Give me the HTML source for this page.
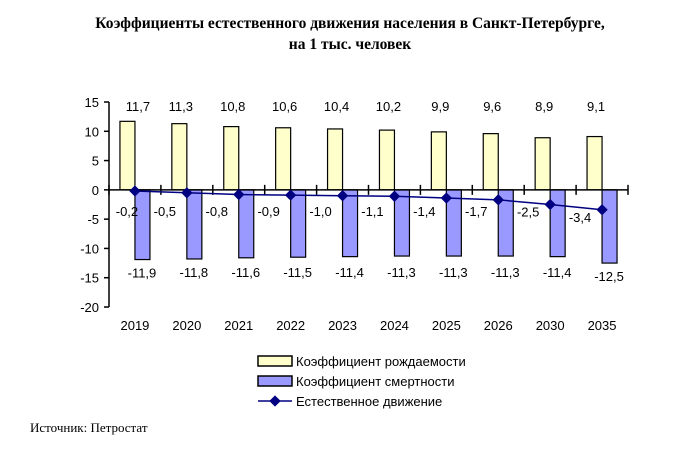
<!DOCTYPE html>
<html><head><meta charset="utf-8">
<style>
body{margin:0;background:#fff;}
svg text{font-family:"Liberation Sans",Arial,sans-serif;font-size:13px;fill:#000;}
svg text.serif{font-family:"Liberation Serif","Times New Roman",serif;}
</style></head>
<body>
<svg width="700" height="447" viewBox="0 0 700 447">
<text class="serif" x="350" y="28" text-anchor="middle" font-weight="bold" style="font-size:15.5px">Коэффициенты естественного движения населения в Санкт-Петербурге,</text>
<text class="serif" x="350" y="49" text-anchor="middle" font-weight="bold" style="font-size:15.5px">на 1 тыс. человек</text>
<g id="plot"></g>
<g>
<rect x="258" y="356" width="34" height="10" fill="#ffffcc" stroke="#000" stroke-width="1.5"/>
<text x="296" y="366">Коэффициент рождаемости</text>
<rect x="258" y="376" width="34" height="10" fill="#9999ff" stroke="#000" stroke-width="1.5"/>
<text x="296" y="386">Коэффициент смертности</text>
<line x1="258" y1="401" x2="292" y2="401" stroke="#000080" stroke-width="1.5"/>
<rect x="271" y="397" width="8" height="8" fill="#000080" transform="rotate(45 275 401)"/>
<text x="296" y="406">Естественное движение</text>
</g>
<text class="serif" x="30" y="432">Источник: Петростат</text>
</svg>
<script>
const categories=["2019","2020","2021","2022","2023","2024","2025","2026","2030","2035"];
const birthRate=[11.7,11.3,10.8,10.6,10.4,10.2,9.9,9.6,8.9,9.1];
const deathRate=[-11.9,-11.8,-11.6,-11.5,-11.4,-11.3,-11.3,-11.3,-11.4,-12.5];
const naturalMove=[-0.2,-0.5,-0.8,-0.9,-1.0,-1.1,-1.4,-1.7,-2.5,-3.4];
const yTicks=[15,10,5,0,-5,-10,-15,-20];

const NS="http://www.w3.org/2000/svg";
const g=document.getElementById('plot');
const x0=109,x1=628,yTop=102,yBot=307,vMax=15,vMin=-20;
const cw=(x1-x0)/categories.length;
function y(v){return yTop+(vMax-v)/(vMax-vMin)*(yBot-yTop);}
function cx(i){return x0+cw*(i+0.5);}
function fmt(v){return v.toFixed(1).replace('.',',');}
function el(t,a){const e=document.createElementNS(NS,t);for(const k in a)e.setAttribute(k,a[k]);g.appendChild(e);return e;}
function txt(s,a){const e=el('text',a);e.textContent=s;return e;}

// y axis
let ax=el('line',{x1:x0,y1:yTop,x2:x0,y2:yBot,stroke:'#000','stroke-width':1.5});


yTicks.forEach(v=>{
 const t=el('line',{x1:x0-5,y1:y(v),x2:x0,y2:y(v),stroke:'#000','stroke-width':1.5});
 
 
 const l=txt(String(v),{x:x0-10,y:y(v)+5,'text-anchor':'end'});
 
 
});
const bw=15;
categories.forEach((c,i)=>{
 const b=el('rect',{x:cx(i)-bw,y:y(birthRate[i]),width:bw,height:y(0)-y(birthRate[i]),fill:'#ffffcc',stroke:'#000','stroke-width':1.2});
 
 
 const d=el('rect',{x:cx(i),y:y(0),width:bw,height:y(deathRate[i])-y(0),fill:'#9999ff',stroke:'#000','stroke-width':1.2});
 
 
 const bl=txt(fmt(birthRate[i]),{x:cx(i)+(i==0?3:-6),y:111,'text-anchor':'middle'});
 
 
 const dl=txt(fmt(deathRate[i]),{x:cx(i)+7,y:Math.max(277,y(deathRate[i])+18),'text-anchor':'middle'});
 
 
 const xl=txt(c,{x:cx(i),y:330,'text-anchor':'middle'});
 
 
});
// x axis at zero
let xa=el('line',{x1:x0,y1:y(0),x2:x1,y2:y(0),stroke:'#000','stroke-width':1.5});


for(let i=0;i<=categories.length;i++){
 const t=el('line',{x1:x0+cw*i,y1:y(0)-5,x2:x0+cw*i,y2:y(0)+5,stroke:'#000','stroke-width':1.5});
 
 
}
// natural movement line
const pts=naturalMove.map((v,i)=>cx(i)+','+y(v)).join(' ');
const pl=el('polyline',{points:pts,fill:'none',stroke:'#000080','stroke-width':1.5});


naturalMove.forEach((v,i)=>{
 const m=el('rect',{x:cx(i)-4,y:y(v)-4,width:8,height:8,fill:'#000080',transform:'rotate(45 '+cx(i)+' '+y(v)+')'});
 
 
 const l=txt(fmt(v),{x:cx(i)+(i==0?-8:-22),y:Math.max(216,y(v)+12),'text-anchor':'middle'});
 
 
});
</script>
</body></html>
